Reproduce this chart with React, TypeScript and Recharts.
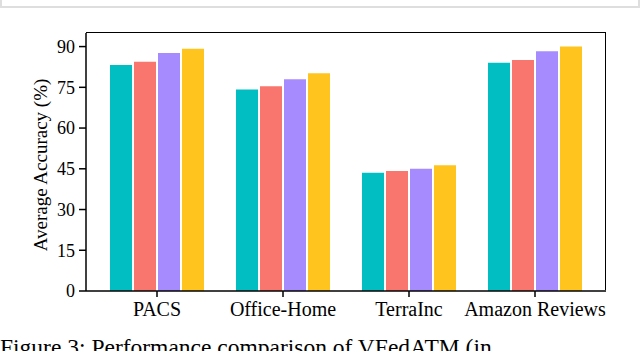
import React from 'react';
import { BarChart, Bar, XAxis, YAxis } from 'recharts';

// datasets on the x axis
const datasets = ['PACS', 'Office-Home', 'TerraInc', 'Amazon Reviews'];

// four methods, one value per dataset
const method1 = [83.2, 74.2, 43.5, 84.0];
const method2 = [84.4, 75.4, 44.2, 85.1];
const method3 = [87.6, 78.0, 45.0, 88.3];
const method4 = [89.2, 80.2, 46.3, 90.0];

const yTicks = [0, 15, 30, 45, 60, 75, 90];

const COLORS = ['#00BEC2', '#F8766D', '#A68BFF', '#FFC51E'];

const FONT = '"Liberation Serif", "Times New Roman", serif';

// plot box in page pixels
const PLOT = { left: 86, top: 33, right: 606, bottom: 291 };

export default function App() {
  const chartData = datasets.map((name, i) => ({
    name,
    m1: method1[i],
    m2: method2[i],
    m3: method3[i],
    m4: method4[i],
  }));

  return (
    <div
      style={{
        position: 'fixed',
        left: 0,
        top: 0,
        width: 640,
        height: 351,
        overflow: 'hidden',
        background: '#fff',
      }}
    >
      {/* edge of the previous figure's frame */}
      <div
        style={{
          position: 'absolute',
          left: 0,
          top: -20,
          width: 640,
          height: 28,
          boxSizing: 'border-box',
          border: '2px solid #dedede',
        }}
      />
      <div style={{ position: 'absolute', left: 0, top: 0 }}>
        <BarChart
          width={640}
          height={326}
          data={chartData}
          margin={{ top: PLOT.top, right: 640 - PLOT.right, bottom: 0, left: 0 }}
          barCategoryGap={16}
          barGap={2}
        >
          <XAxis
            dataKey="name"
            height={326 - PLOT.bottom}
            padding={{ left: 8, right: 8 }}
            axisLine={{ stroke: '#000', strokeWidth: 1.5 }}
            tickLine={{ stroke: '#000', strokeWidth: 1.5 }}
            tickSize={6}
            tickMargin={5}
            tick={{ fill: '#000', fontSize: 20, fontFamily: FONT }}
            interval={0}
          />
          <YAxis
            width={PLOT.left}
            domain={[0, 95]}
            ticks={yTicks}
            allowDataOverflow
            axisLine={{ stroke: '#000', strokeWidth: 1.5 }}
            tickLine={{ stroke: '#000', strokeWidth: 1.5 }}
            tickSize={7}
            tickMargin={4}
            tick={{ fill: '#000', fontSize: 18, fontFamily: FONT }}
            label={{
              value: 'Average Accuracy (%)',
              angle: -90,
              position: 'center',
              dx: -3,
              dy: 3,
              style: { fill: '#000', fontSize: 19, fontFamily: FONT },
            }}
          />
          <Bar dataKey="m1" fill={COLORS[0]} isAnimationActive={false} />
          <Bar dataKey="m2" fill={COLORS[1]} isAnimationActive={false} />
          <Bar dataKey="m3" fill={COLORS[2]} isAnimationActive={false} />
          <Bar dataKey="m4" fill={COLORS[3]} isAnimationActive={false} />
        </BarChart>
      </div>
      {/* top and right spines */}
      <div
        style={{
          position: 'absolute',
          left: PLOT.left,
          top: PLOT.top - 1,
          width: PLOT.right - PLOT.left,
          height: PLOT.bottom - PLOT.top,
          boxSizing: 'border-box',
          borderTop: '1.5px solid #000',
          borderRight: '1.5px solid #000',
          pointerEvents: 'none',
        }}
      />
      <div
        style={{
          position: 'absolute',
          left: 0,
          top: 336,
          fontFamily: FONT,
          fontSize: 23.5,
          lineHeight: 1,
          whiteSpace: 'nowrap',
          color: '#000',
        }}
      >
        Figure 3: Performance comparison of VFedATM (in
      </div>
    </div>
  );
}
